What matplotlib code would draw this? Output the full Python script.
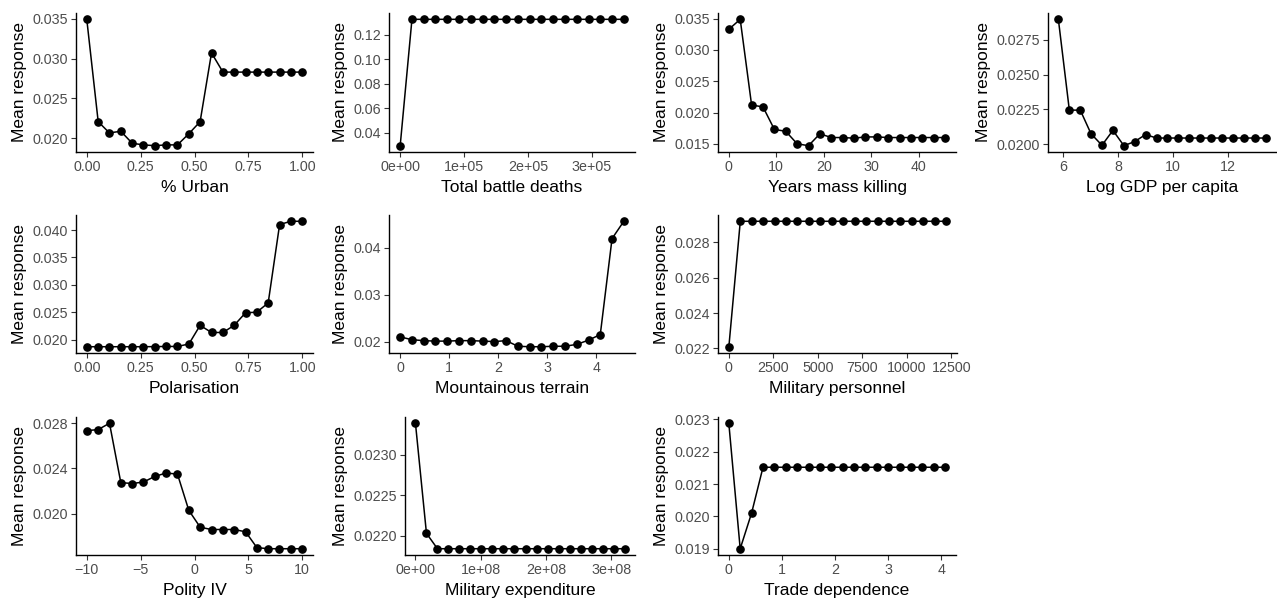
import matplotlib
matplotlib.use("Agg")
import matplotlib.pyplot as plt

plt.rcParams['font.family'] = ['Liberation Sans', 'DejaVu Sans']

# ---- data (20-point partial dependence grids) ----
urban_x = [0.0, 0.053, 0.105, 0.158, 0.211, 0.263, 0.316, 0.368, 0.421, 0.474,
           0.526, 0.579, 0.632, 0.684, 0.737, 0.789, 0.842, 0.895, 0.947, 1.0]
urban_y = [0.0349, 0.0221, 0.0207, 0.0209, 0.0194, 0.0192, 0.0191, 0.0192, 0.0192, 0.0206,
           0.0221, 0.0307, 0.0283, 0.0283, 0.0283, 0.0283, 0.0283, 0.0283, 0.0283, 0.0283]

deaths_x = [0, 18421, 36842, 55263, 73684, 92105, 110526, 128947, 147368, 165789,
            184211, 202632, 221053, 239474, 257895, 276316, 294737, 313158, 331579, 350000]
deaths_y = [0.0294] + [0.1328] * 19

killing_x = [0, 2.4, 4.8, 7.2, 9.6, 12.0, 14.4, 16.8, 19.2, 21.6,
             24.0, 26.4, 28.8, 31.2, 33.6, 36.0, 38.4, 40.8, 43.2, 45.6]
killing_y = [0.0333, 0.0349, 0.0212, 0.0209, 0.0173, 0.0170, 0.0150, 0.0147, 0.0166, 0.0160,
             0.0160, 0.0159, 0.0161, 0.0161, 0.0160, 0.0160, 0.0160, 0.0160, 0.0160, 0.0160]

gdp_x = [5.83, 6.23, 6.63, 7.02, 7.42, 7.82, 8.22, 8.62, 9.01, 9.41,
         9.81, 10.21, 10.61, 11.00, 11.40, 11.80, 12.20, 12.60, 12.99, 13.39]
gdp_y = [0.02898, 0.02246, 0.02245, 0.02076, 0.01993, 0.0210, 0.0199, 0.0202, 0.0207, 0.02045,
         0.02045, 0.02045, 0.02045, 0.02045, 0.02045, 0.02045, 0.02045, 0.02045, 0.02045, 0.02045]

polar_x = urban_x
polar_y = [0.0187, 0.0187, 0.0187, 0.0187, 0.0187, 0.0187, 0.01872, 0.01875, 0.01875, 0.0192,
           0.0226, 0.0213, 0.0213, 0.0226, 0.0249, 0.0250, 0.0267, 0.0410, 0.0416, 0.0416]

mount_x = [0, 0.24, 0.48, 0.72, 0.96, 1.2, 1.44, 1.68, 1.92, 2.16,
           2.4, 2.64, 2.88, 3.12, 3.36, 3.6, 3.84, 4.08, 4.32, 4.56]
mount_y = [0.0210, 0.0204, 0.0202, 0.0201, 0.0201, 0.0202, 0.0202, 0.0201, 0.0200, 0.0202,
           0.0190, 0.0189, 0.0189, 0.0190, 0.0190, 0.0194, 0.0203, 0.0215, 0.0420, 0.0457]

pers_x = [0, 642, 1284, 1926, 2568, 3211, 3853, 4495, 5137, 5779,
          6421, 7063, 7705, 8347, 8989, 9632, 10274, 10916, 11558, 12200]
pers_y = [0.0221] + [0.0292] * 19

polity_x = [-10, -8.95, -7.89, -6.84, -5.79, -4.74, -3.68, -2.63, -1.58, -0.53,
            0.53, 1.58, 2.63, 3.68, 4.74, 5.79, 6.84, 7.89, 8.95, 10]
polity_y = [0.02735, 0.02744, 0.0280, 0.02275, 0.02267, 0.0228, 0.0233, 0.0236, 0.0235, 0.0203,
            0.0188, 0.0186, 0.0186, 0.0186, 0.0184, 0.0170, 0.0169, 0.0169, 0.0169, 0.0169]

milexp_x = [0, 1.684e7, 3.368e7, 5.053e7, 6.737e7, 8.421e7, 1.0105e8, 1.1789e8, 1.3474e8, 1.5158e8,
            1.6842e8, 1.8526e8, 2.0211e8, 2.1895e8, 2.3579e8, 2.5263e8, 2.6947e8, 2.8632e8, 3.0316e8, 3.2e8]
milexp_y = [0.02339, 0.02203] + [0.02184] * 18

trade_x = [0, 0.214, 0.428, 0.643, 0.857, 1.071, 1.285, 1.499, 1.714, 1.928,
           2.142, 2.356, 2.571, 2.785, 2.999, 3.213, 3.427, 3.642, 3.856, 4.07]
trade_y = [0.02288, 0.0190, 0.0201] + [0.02152] * 17

# titles and ticks
x_titles = ["% Urban", "Total battle deaths", "Years mass killing", "Log GDP per capita",
            "Polarisation", "Mountainous terrain", "Military personnel",
            "Polity IV", "Military expenditure", "Trade dependence"]

x_ticks = [[0, 0.25, 0.5, 0.75, 1.0], [0, 1e5, 2e5, 3e5], [0, 10, 20, 30, 40], [6, 8, 10, 12],
           [0, 0.25, 0.5, 0.75, 1.0], [0, 1, 2, 3, 4], [0, 2500, 5000, 7500, 10000, 12500],
           [-10, -5, 0, 5, 10], [0, 1e8, 2e8, 3e8], [0, 1, 2, 3, 4]]
x_labels = [["0.00", "0.25", "0.50", "0.75", "1.00"], ["0e+00", "1e+05", "2e+05", "3e+05"],
            ["0", "10", "20", "30", "40"], ["6", "8", "10", "12"],
            ["0.00", "0.25", "0.50", "0.75", "1.00"], ["0", "1", "2", "3", "4"],
            ["0", "2500", "5000", "7500", "10000", "12500"],
            ["\u221210", "\u22125", "0", "5", "10"], ["0e+00", "1e+08", "2e+08", "3e+08"],
            ["0", "1", "2", "3", "4"]]
y_ticks = [[0.020, 0.025, 0.030, 0.035], [0.04, 0.06, 0.08, 0.10, 0.12],
           [0.015, 0.020, 0.025, 0.030, 0.035], [0.0200, 0.0225, 0.0250, 0.0275],
           [0.020, 0.025, 0.030, 0.035, 0.040], [0.02, 0.03, 0.04],
           [0.022, 0.024, 0.026, 0.028], [0.020, 0.024, 0.028],
           [0.0220, 0.0225, 0.0230], [0.019, 0.020, 0.021, 0.022, 0.023]]
y_fmt = ["%.3f", "%.2f", "%.3f", "%.4f", "%.3f", "%.2f", "%.3f", "%.3f", "%.4f", "%.3f"]

series = [(urban_x, urban_y), (deaths_x, deaths_y), (killing_x, killing_y), (gdp_x, gdp_y),
          (polar_x, polar_y), (mount_x, mount_y), (pers_x, pers_y),
          (polity_x, polity_y), (milexp_x, milexp_y), (trade_x, trade_y)]

# panel boxes in pixels: left, top, right, bottom
W, H = 1277, 601
boxes = [(76, 13, 313, 152), (389, 13, 635, 152), (718, 13, 956, 152), (1048, 13, 1276, 152),
         (76, 215, 313, 353), (389, 215, 635, 353), (718, 215, 957, 353),
         (76, 417, 313, 555), (405, 417, 635, 555), (718, 417, 956, 555)]

fig = plt.figure(figsize=(W / 100, H / 100), dpi=100)

for i, ((x, y), (l, t, r, b)) in enumerate(zip(series, boxes)):
    ax = fig.add_axes([l / W, 1 - b / H, (r - l) / W, (b - t) / H])
    ax.plot(x, y, color="black", linewidth=1.1, marker="o", markersize=5.2)
    ax.set_xticks(x_ticks[i])
    ax.set_xticklabels(x_labels[i])
    ax.set_yticks(y_ticks[i])
    ax.set_yticklabels([y_fmt[i] % v for v in y_ticks[i]])
    ax.set_xlabel(x_titles[i], fontsize=12.5, labelpad=4.5)
    ax.set_ylabel("Mean response", fontsize=12.5, labelpad=4)
    ax.tick_params(labelsize=10.3, labelcolor="#4D4D4D", color="#333333",
                   length=3.5, width=0.8, pad=2)
    for side in ["top", "right"]:
        ax.spines[side].set_visible(False)
    for side in ["left", "bottom"]:
        ax.spines[side].set_linewidth(1.0)

plt.savefig("out.png", dpi=100)
